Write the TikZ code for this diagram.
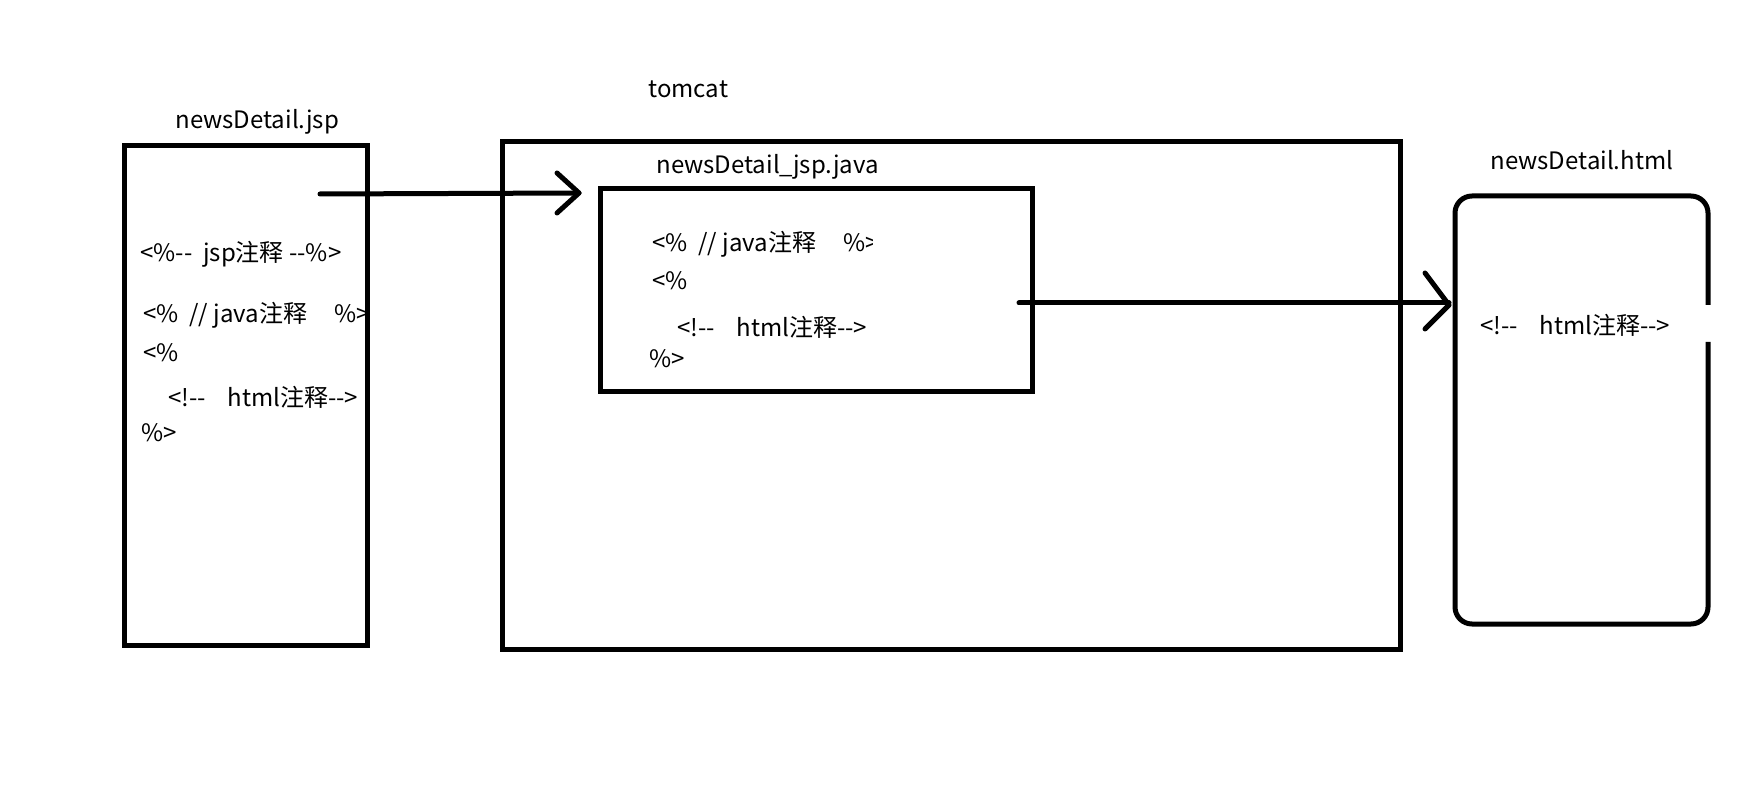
\documentclass[tikz,border=0pt]{standalone}
\usepackage{fontspec}
\newfontfamily\cjk{Noto Sans CJK SC}
\begin{document}
\begin{tikzpicture}[x=0.5pt,y=-0.5pt,
  lw/.style={line width=2.5pt},
  boxline/.style={lw,draw=black},
  txt/.style={anchor=base west,inner sep=0pt,font=\cjk\fontsize{12}{14}\selectfont},
  conn/.style={lw,line cap=round,line join=round}]
\useasboundingbox[fill=white] (0,0) rectangle (1764,806);
% boxes
\draw[boxline] (124,146) rectangle (367,645);
\draw[boxline] (502,142) rectangle (1400,649);
\draw[boxline] (600,189) rectangle (1032,392);
\draw[boxline,rounded corners=8.5pt] (1708,342) -- (1708,624) -- (1455,624) -- (1455,196) -- (1708,196) -- (1708,305);
% titles
\node[txt] (t1) at (175,129) {newsDetail.jsp};
\node[txt] (t2) at (648,98) {tomcat};
\node[txt] (t3) at (656,174) {newsDetail\_jsp.java};
\node[txt] (t4) at (1490,170) {newsDetail.html};
% left box text
\node[txt] (a1) at (140,262) {<\%--~~jsp注释~--\%>};
\node[txt] (a2) at (143,323) {<\%~~//~java注释~~~~~\%>};
\node[txt] (a3) at (143,362) {<\%};
\node[txt] (a4) at (168,407) {<!--~~~~html注释-->};
\node[txt] (a5) at (141,442) {\%>};
% inner box text
\begin{scope}
\clip (600,200) rectangle (872,270);
\node[txt] (b1) at (652,252) {<\%~~//~java注释~~~~~\%>};
\end{scope}
\node[txt] (b2) at (652,290) {<\%};
\node[txt] (b3) at (677,337) {<!--~~~~html注释-->};
\node[txt] (b4) at (649,368) {\%>};
% right box text
\node[txt] (c1) at (1480,335) {<!--~~~~html注释-->};
% arrows
\coordinate (s1) at (320,194);
\coordinate (e1) at (579,193);
\coordinate (u1) at (557,173);
\coordinate (d1) at (557,213);
\draw[conn] (s1) -- (e1);
\draw[conn] (u1) -- (e1) -- (d1);
\coordinate (s2) at (1019,303);
\coordinate (e2) at (1449,305);
\coordinate (u2) at (1425,273);
\coordinate (d2) at (1425,329);
\draw[conn] (s2) -- (1449,303);
\draw[conn] (u2) -- (e2) -- (d2);
\end{tikzpicture}
\end{document}
